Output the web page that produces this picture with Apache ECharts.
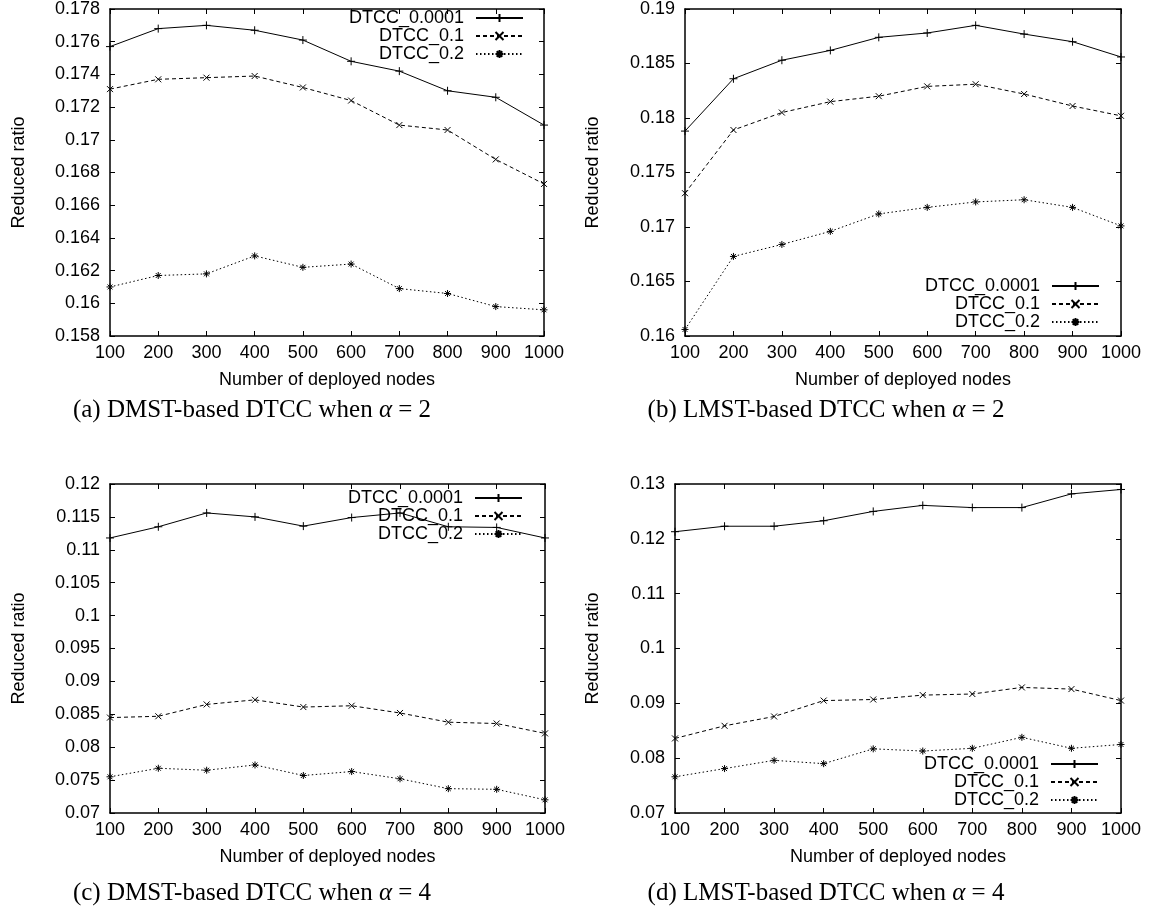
<!DOCTYPE html>
<html><head><meta charset="utf-8">
<script src="https://cdn.jsdelivr.net/npm/echarts@6/dist/echarts.min.js"></script>
<style>html,body{margin:0;padding:0;background:#fff}#c{width:1151px;height:916px}</style>
</head><body><div id="c"></div>
<script>
// ---- data ----
const nodes = [100, 200, 300, 400, 500, 600, 700, 800, 900, 1000];
const seriesNames = ['DTCC_0.0001', 'DTCC_0.1', 'DTCC_0.2'];
const xAxisTitle = 'Number of deployed nodes';
const yAxisTitle = 'Reduced ratio';
const captions = [
  '(a) DMST-based DTCC when {i|α} = 2',
  '(b) LMST-based DTCC when {i|α} = 2',
  '(c) DMST-based DTCC when {i|α} = 4',
  '(d) LMST-based DTCC when {i|α} = 4'
];
// (a) DMST, alpha = 2
const a_0001 = [0.1757, 0.1768, 0.1770, 0.1767, 0.1761, 0.1748, 0.1742, 0.1730, 0.1726, 0.1709];
const a_01   = [0.1731, 0.1737, 0.1738, 0.1739, 0.1732, 0.1724, 0.1709, 0.1706, 0.1688, 0.1673];
const a_02   = [0.1610, 0.1617, 0.1618, 0.1629, 0.1622, 0.1624, 0.1609, 0.1606, 0.1598, 0.1596];
// (b) LMST, alpha = 2
const b_0001 = [0.1788, 0.1836, 0.1853, 0.1862, 0.1874, 0.1878, 0.1885, 0.1877, 0.1870, 0.1856];
const b_01   = [0.1731, 0.1789, 0.1805, 0.1815, 0.1820, 0.1829, 0.1831, 0.1822, 0.1811, 0.1802];
const b_02   = [0.1606, 0.1673, 0.1684, 0.1696, 0.1712, 0.1718, 0.1723, 0.1725, 0.1718, 0.1701];
// (c) DMST, alpha = 4
const c_0001 = [0.1118, 0.1135, 0.1156, 0.1150, 0.1136, 0.1149, 0.1156, 0.1135, 0.1134, 0.1118];
const c_01   = [0.0845, 0.0847, 0.0865, 0.0872, 0.0861, 0.0863, 0.0852, 0.0838, 0.0836, 0.0821];
const c_02   = [0.0755, 0.0768, 0.0765, 0.0773, 0.0757, 0.0763, 0.0752, 0.0737, 0.0736, 0.0720];
// (d) LMST, alpha = 4
const d_0001 = [0.1213, 0.1223, 0.1223, 0.1233, 0.1250, 0.1261, 0.1257, 0.1257, 0.1282, 0.1290];
const d_01   = [0.0836, 0.0859, 0.0876, 0.0905, 0.0907, 0.0915, 0.0917, 0.0929, 0.0926, 0.0905];
const d_02   = [0.0766, 0.0781, 0.0796, 0.0790, 0.0817, 0.0813, 0.0818, 0.0838, 0.0818, 0.0825];
// y-axis ranges [min, max, interval]
const yRangeA = [0.158, 0.178, 0.002];
const yRangeB = [0.16, 0.19, 0.005];
const yRangeC = [0.07, 0.12, 0.005];
const yRangeD = [0.07, 0.13, 0.01];

// ---- layout / style ----
const SANS = 'Liberation Sans, Arial, Helvetica, sans-serif';
const SERIF = 'Liberation Serif, Times New Roman, serif';
const FS = 18;
const CAP_FS = 25;
const INK = '#000';

const panels = [
  { grid: {left: 110, top: 7, width: 434, height: 329}, y: yRangeA, data: [a_0001, a_01, a_02],
    legend: {right: 627, top: 9}, yGap: 82, cap: {x: 252, y: 410} },
  { grid: {left: 685, top: 7, width: 436, height: 329}, y: yRangeB, data: [b_0001, b_01, b_02],
    legend: {right: 51, top: 277}, yGap: 83, cap: {x: 826, y: 410} },
  { grid: {left: 110, top: 484, width: 435, height: 329}, y: yRangeC, data: [c_0001, c_01, c_02],
    legend: {right: 628, top: 489}, yGap: 82, cap: {x: 252, y: 893} },
  { grid: {left: 675, top: 484, width: 446, height: 329}, y: yRangeD, data: [d_0001, d_01, d_02],
    legend: {right: 52, top: 755}, yGap: 73, cap: {x: 826, y: 893} }
];

const symPlus = 'path://M0,5L10,5M5,0L5,10';
const symCross = 'path://M0,0L10,10M10,0L0,10';
const symStar = 'path://M0,5L10,5M5,0L5,10M1.5,1.5L8.5,8.5M8.5,1.5L1.5,8.5';
const styles = [
  { symbol: symPlus, size: 8, dash: 'solid' },
  { symbol: symCross, size: 6, dash: [4, 3] },
  { symbol: symStar, size: 7, dash: [1.5, 2.5] }
];

const fmt = v => String(+(+v).toFixed(4));
const fmtX = v => String(Math.round(v));
const axisLineStyle = { lineStyle: { color: INK, width: 1.5 } };
const tickStyle = { show: true, inside: true, length: 5, lineStyle: { color: INK, width: 1 } };

const option = {
  animation: false,
  backgroundColor: '#fff',
  grid: [], xAxis: [], yAxis: [], series: [], legend: [], graphic: []
};

panels.forEach((p, i) => {
  option.grid.push(Object.assign({ containLabel: false }, p.grid));
  const xBase = { type: 'value', gridIndex: i, min: nodes[0], max: nodes[nodes.length - 1], interval: 100,
    splitLine: { show: false }, axisLine: axisLineStyle, axisTick: tickStyle };
  option.xAxis.push(Object.assign({}, xBase, {
    position: 'bottom',
    axisLabel: { color: INK, fontFamily: SANS, fontSize: FS, margin: 8.5, formatter: fmtX },
    name: xAxisTitle, nameLocation: 'middle', nameGap: 35.5,
    nameTextStyle: { color: INK, fontFamily: SANS, fontSize: FS }
  }));
  option.xAxis.push(Object.assign({}, xBase, { position: 'top', axisLabel: { show: false } }));
  const yBase = { type: 'value', gridIndex: i, min: p.y[0], max: p.y[1], interval: p.y[2],
    splitLine: { show: false }, axisLine: axisLineStyle, axisTick: tickStyle };
  option.yAxis.push(Object.assign({}, yBase, {
    position: 'left',
    axisLabel: { color: INK, fontFamily: SANS, fontSize: FS, margin: 10, formatter: fmt },
    name: yAxisTitle, nameLocation: 'middle', nameGap: p.yGap,
    nameTextStyle: { color: INK, fontFamily: SANS, fontSize: FS }
  }));
  option.yAxis.push(Object.assign({}, yBase, { position: 'right', axisLabel: { show: false } }));

  p.data.forEach((vals, k) => {
    const st = styles[k];
    option.series.push({
      type: 'line', name: seriesNames[k],
      xAxisIndex: 2 * i, yAxisIndex: 2 * i,
      data: nodes.map((n, j) => [n, vals[j]]),
      symbol: st.symbol, symbolSize: st.size, showAllSymbol: true,
      lineStyle: { color: INK, width: 1, type: st.dash },
      itemStyle: { color: INK, borderColor: INK, borderWidth: 1 },
      emphasis: { disabled: true }, clip: false
    });
  });

  option.legend.push({
    orient: 'vertical', right: p.legend.right, top: p.legend.top,
    align: 'right', itemWidth: 47, itemHeight: 10, itemGap: 0, padding: 0,
    selectedMode: false, data: seriesNames,
    textStyle: { color: INK, fontFamily: SANS, fontSize: FS, lineHeight: 18, padding: [0, 7, 0, 0] }
  });

  option.graphic.push({
    type: 'text', x: p.cap.x, y: p.cap.y,
    style: {
      text: captions[i], fill: INK, fontFamily: SERIF, fontSize: CAP_FS,
      align: 'center', verticalAlign: 'middle',
      rich: { i: { fontStyle: 'italic', fontFamily: SERIF, fontSize: CAP_FS, fill: INK } }
    }
  });
});

const chart = echarts.init(document.getElementById('c'), null, { renderer: 'canvas' });
chart.setOption(option);
</script>
</body></html>
